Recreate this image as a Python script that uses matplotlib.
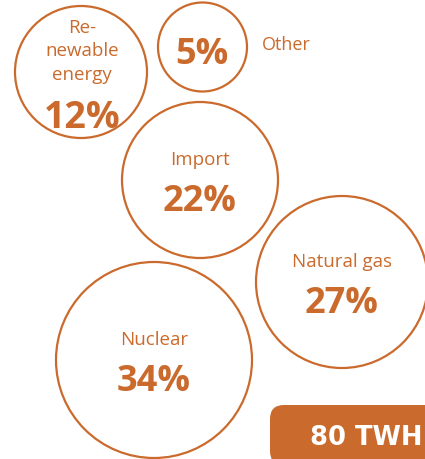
import matplotlib
matplotlib.use("Agg")
import matplotlib.pyplot as plt
from matplotlib.patches import Circle, FancyBboxPatch

# Electricity supply mix, share of total
sources = ["Re-\nnewable\nenergy", "Other", "Import", "Natural gas", "Nuclear"]
shares = [12, 5, 22, 27, 34]
total_label = "80 TWH"

# Bubble layout in pixel space: centre x, centre y, radius
bubble_layout = [
    (81, 72, 66),
    (202.5, 47, 44.5),
    (200, 180, 78),
    (342, 282, 86),
    (154, 360, 98),
]

ORANGE = "#CA6A2C"
W, H = 425, 459

fig = plt.figure(figsize=(W / 100, H / 100), dpi=100)
ax = fig.add_axes([0, 0, 1, 1])
ax.set_xlim(0, W)
ax.set_ylim(H, 0)
ax.set_aspect("equal")
ax.axis("off")

label_font = dict(family="Open Sans", color=ORANGE, fontsize=13.5,
                  ha="center", va="baseline")
value_font = dict(family="Open Sans", color=ORANGE, fontsize=26, fontweight="bold",
                  ha="center", va="baseline")

for name, share, (cx, cy, r) in zip(sources, shares, bubble_layout):
    ax.add_patch(Circle((cx, cy), r, fill=False, edgecolor=ORANGE, linewidth=1.6))
    value_text = f"{share}%"
    if name == "Other":
        # label sits outside the small bubble
        ax.text(cx - 1, cy + 17, value_text, **value_font)
        ax.text(262, 50, name, **{**label_font, "ha": "left", "fontsize": 13})
    elif "\n" in name:
        for i, line in enumerate(name.split("\n")):
            ax.text(cx + 1, cy - 39 + 23.5 * i, line, **label_font)
        ax.text(cx + 1, cy + 56, value_text, **{**value_font, "fontsize": 27})
    else:
        ax.text(cx, cy - 15, name, **label_font)
        ax.text(cx, cy + 31, value_text, **value_font)

# Total consumption badge, running off the lower right corner
ax.add_patch(FancyBboxPatch((270, 405), 200, 60,
                            boxstyle="round,pad=0,rounding_size=14",
                            facecolor=ORANGE, edgecolor="none", clip_on=True))
ax.text(310, 445, total_label, family="DejaVu Sans", fontweight="bold", fontsize=18.5,
        color="white", ha="left", va="baseline")

fig.savefig("out.png", dpi=100, facecolor="white")
